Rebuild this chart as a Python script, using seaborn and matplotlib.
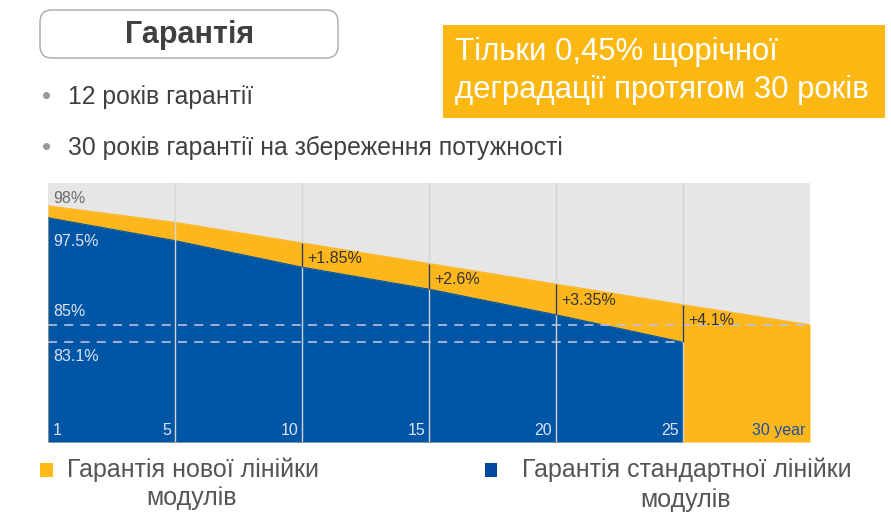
import seaborn as sns
import matplotlib.pyplot as plt
import pandas as pd
from matplotlib.patches import FancyBboxPatch, Rectangle

# chart data
years = ['1', '5', '10', '15', '20', '25', '30']
new_line = [98.0, 96.2, 93.95, 91.7, 89.45, 87.2, 85.0]
std_line = [96.7, 94.2, 91.3, 88.9, 86.1, 83.1]
gap_years = ['10', '15', '20', '25']
gap_labels = ['+1.85%', '+2.6%', '+3.35%', '+4.1%']
level_labels = ['98%', '97.5%', '85%', '83.1%']
bullets = ['12 років гарантії', '30 років гарантії на збереження потужності']

ORANGE = '#FDB71C'
BLUE = '#0055A4'
GRAY = '#E6E6E6'
YMIN, YMAX = 72.2, 100.5

sns.set_theme(style='white')
plt.rcParams['font.family'] = ['Liberation Sans', 'DejaVu Sans']

fig = plt.figure(figsize=(8.91, 5.25), dpi=100)
ax = fig.add_axes([48 / 891, 1 - 442 / 525, 762 / 891, 259 / 525])
ax.set_facecolor(GRAY)

df_new = pd.DataFrame({'pos': range(len(new_line)), 'year': years, 'value': new_line})
df_std = pd.DataFrame({'pos': range(len(std_line)), 'year': years[:len(std_line)], 'value': std_line})

ax.fill_between(df_new['pos'], YMIN, df_new['value'], color=ORANGE, lw=0, zorder=1)
ax.fill_between(df_std['pos'], YMIN, df_std['value'], color=BLUE, lw=0, zorder=2)
sns.lineplot(data=df_new, x='pos', y='value', color=ORANGE, lw=0.8, ax=ax, zorder=1)
sns.lineplot(data=df_std, x='pos', y='value', color=BLUE, lw=0.8, ax=ax, zorder=2)

# vertical grid
for p in range(1, len(years) - 1):
    ax.axvline(p, color='#d4d4d4', lw=1, zorder=3)

# dashed reference levels
ax.hlines(new_line[-1], 0, len(years) - 1, colors='#c0c2e0', lw=1.3,
          linestyles=(0, (5, 4)), alpha=0.9, zorder=3)
ax.hlines(std_line[-1], 0, len(std_line) - 1, colors='#c0c2e0', lw=1.3,
          linestyles=(0, (5, 4)), alpha=0.9, zorder=3)

# gap brackets
for y, lab in zip(gap_years, gap_labels):
    p = years.index(y)
    ax.vlines(p, std_line[p], new_line[p], colors='#3a3a3a', lw=1, zorder=4)
    ax.text(p + 0.04, new_line[p] - 1.75, lab, ha='left', va='center',
            fontsize=11.5, color='#333333', zorder=5)

# level labels
lab_kw = dict(ha='left', va='center', fontsize=11.5, zorder=5)
ax.text(0.04, 98.85, level_labels[0], color='#6b6b6b', **lab_kw)
ax.text(0.04, 94.1, level_labels[1], color='#dfe3f3', **lab_kw)
ax.text(0.04, 86.5, level_labels[2], color='#dfe3f3', **lab_kw)
ax.text(0.04, 81.5, level_labels[3], color='#dfe3f3', **lab_kw)

# year labels along the bottom
for i, y in enumerate(years):
    if i == 0:
        ax.text(0.04, 73.5, y, ha='left', va='center', fontsize=11.5, color='#dfe3f3', zorder=5)
    elif i == len(years) - 1:
        ax.text(i - 0.04, 73.5, y + ' year', ha='right', va='center', fontsize=11.5, color='#1f4e9b', zorder=5)
    else:
        ax.text(i - 0.03, 73.5, y, ha='right', va='center', fontsize=11.5, color='#dfe3f3', zorder=5)

ax.set_xlim(0, len(years) - 1)
ax.set_ylim(YMIN, YMAX)
ax.set_xticks([])
ax.set_yticks([])
ax.set_xlabel('')
ax.set_ylabel('')
for s in ax.spines.values():
    s.set_visible(False)

# page decorations in pixel coordinates
ov = fig.add_axes([0, 0, 1, 1])
ov.set_xlim(0, 891)
ov.set_ylim(525, 0)
ov.axis('off')
ov.patch.set_alpha(0)

ov.add_patch(FancyBboxPatch((40, 10), 298, 48, boxstyle='round,pad=0,rounding_size=12',
                            fc='white', ec='#a8a8a8', lw=1))
ov.text(190, 35, 'Гарантія', ha='center', va='center', fontsize=22,
        fontweight='bold', color='#404040')

ov.add_patch(Rectangle((443, 25), 442, 93, fc='#FBB813', ec='none'))
ov.text(455, 52, 'Тільки 0,45% щорічної', ha='left', va='center', fontsize=22.4, color='white')
ov.text(455, 90, 'деградації протягом 30 років', ha='left', va='center', fontsize=22.4, color='white')

for yb, txt in zip([97, 148], bullets):
    ov.text(47, yb, '•', ha='center', va='center', fontsize=19, color='#9a9a9a')
    ov.text(68, yb, txt, ha='left', va='center', fontsize=17.8, color='#404040')

# legend
ov.add_patch(Rectangle((40, 463), 13, 14, fc='#FDBA12', ec='none'))
ov.text(67, 470, 'Гарантія нової лінійки', ha='left', va='center', fontsize=18, color='#555555')
ov.text(192, 498, 'модулів', ha='center', va='center', fontsize=18, color='#555555')
ov.add_patch(Rectangle((485, 463), 12, 14, fc='#0048A0', ec='none'))
ov.text(522, 470, 'Гарантія стандартної лінійки', ha='left', va='center', fontsize=18, color='#555555')
ov.text(686, 500, 'модулів', ha='center', va='center', fontsize=18, color='#555555')

fig.savefig('out.png', dpi=100)
